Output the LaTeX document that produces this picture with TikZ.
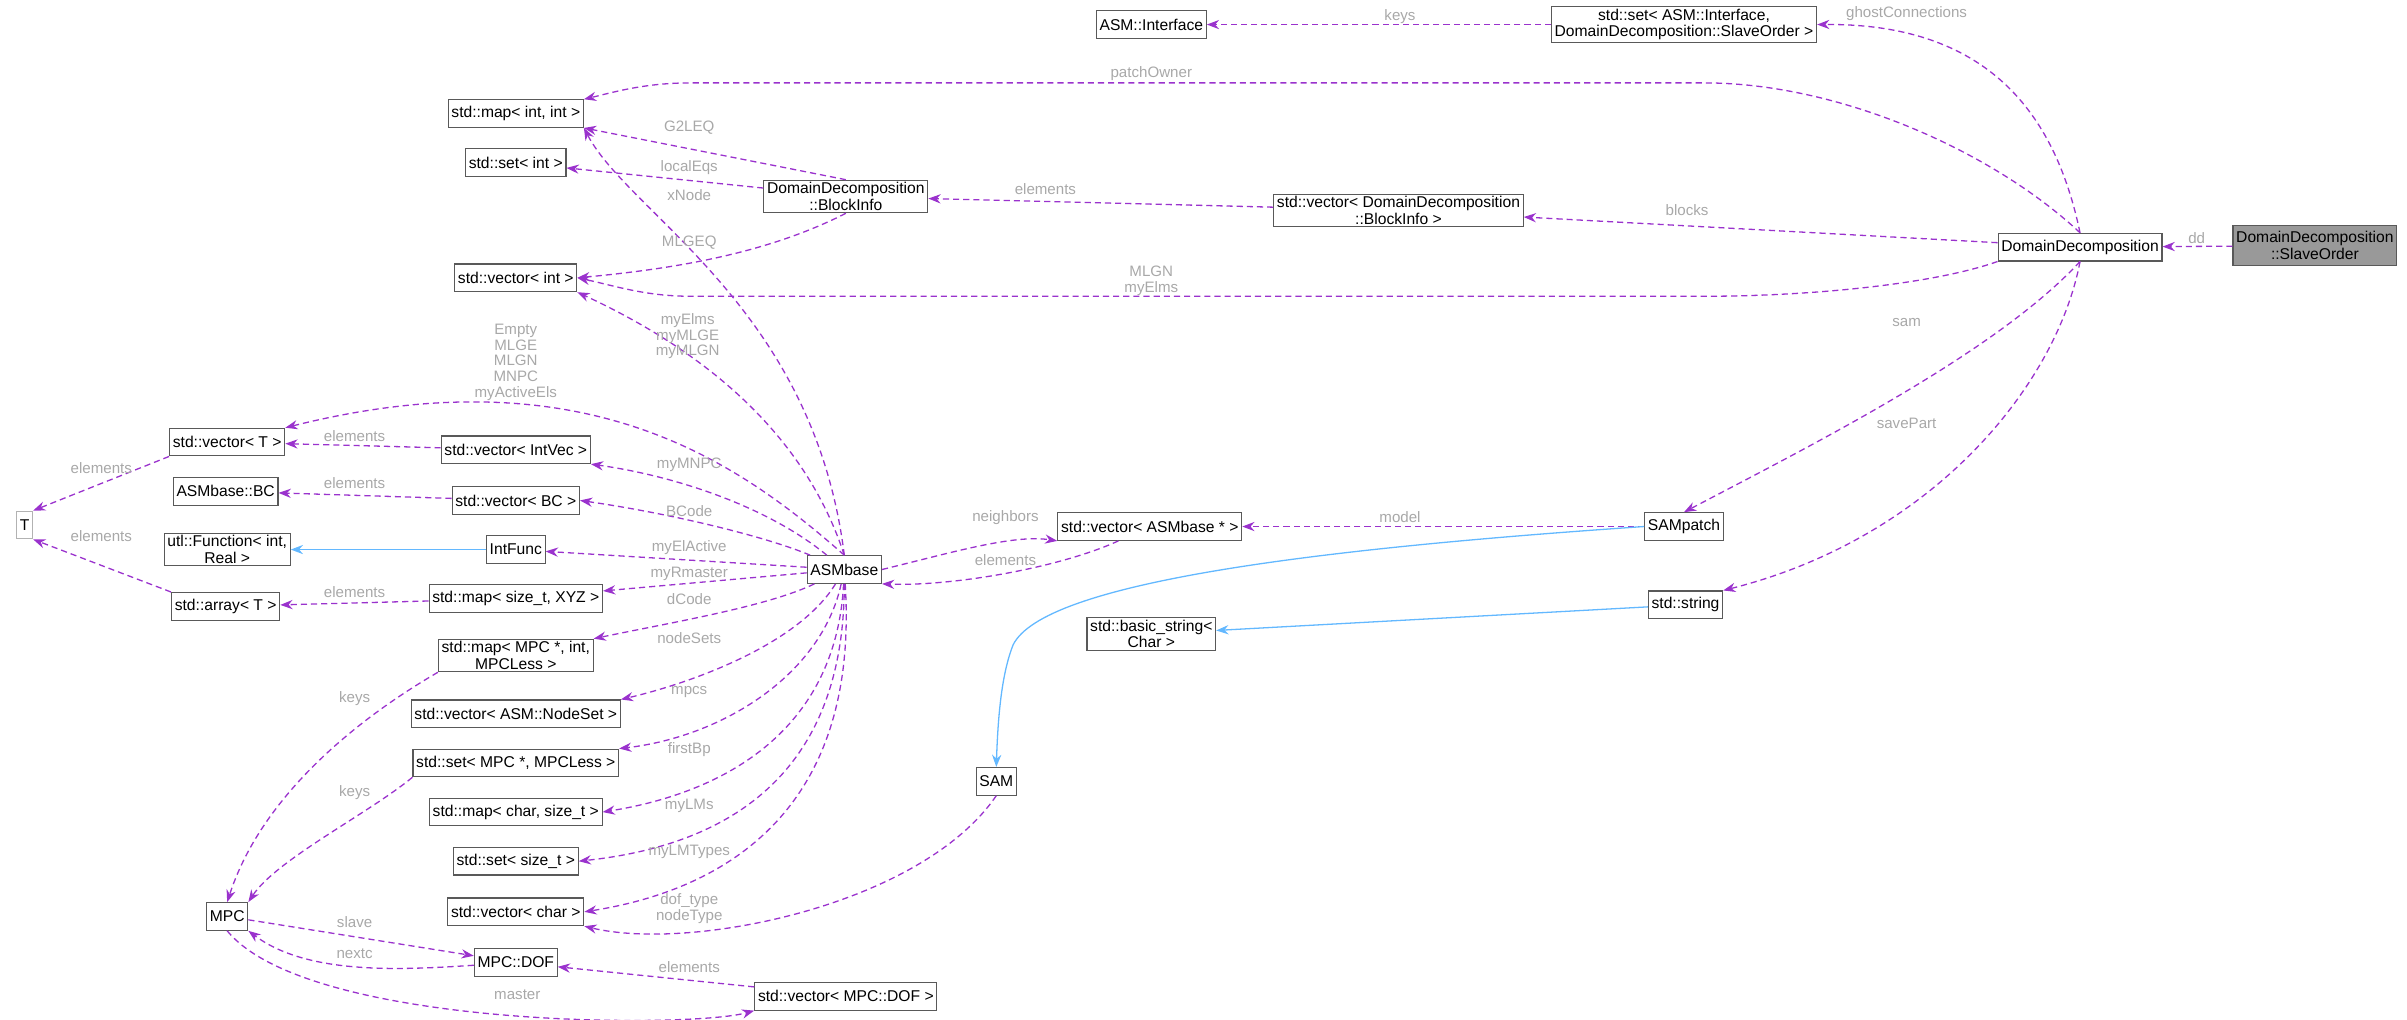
\documentclass[tikz,border=0pt]{standalone}
\usepackage{fontspec}
\setmainfont{Liberation Sans}
\usetikzlibrary{arrows.meta}
\definecolor{ep}{HTML}{9A32CD}
\definecolor{eb}{HTML}{63B8FF}
\definecolor{lb}{HTML}{A8A8A8}
\begin{document}
\begin{tikzpicture}[x=0.5mm,y=-0.5mm,
 every node/.style={font=\fontsize{14.5}{15.5}\selectfont},
 box/.style={draw=black!65,line width=1pt,fill=white,inner xsep=3pt,inner ysep=2pt,minimum height=9mm,align=center},
 rel/.style={draw=ep,line width=1.2pt,dash pattern=on 2mm off 1.3mm,-{Stealth[length=4mm,width=3mm]}},
 inh/.style={draw=eb,line width=1.2pt,-{Stealth[length=4mm,width=3mm]}},
 lab/.style={text=lb,align=center,inner sep=0pt,font=\fontsize{14}{14.5}\selectfont}]
\useasboundingbox (0,0) rectangle (1568,664);
% nodes
\node[box,fill=black!40,minimum height=13mm] (so) at (1508,160) {DomainDecomposition\\::SlaveOrder};
\node[box] (dd) at (1355,161) {DomainDecomposition};
\node[box] (setI) at (1097,16) {std::set< ASM::Interface,\\DomainDecomposition::SlaveOrder >};
\node[box] (asmI) at (750,16) {ASM::Interface};
\node[box] (vbi) at (911,137) {std::vector< DomainDecomposition\\::BlockInfo >};
\node[box] (bi) at (551,128) {DomainDecomposition\\::BlockInfo};
\node[box] (mapii) at (336,74) {std::map< int, int >};
\node[box] (seti) at (336,106) {std::set< int >};
\node[box] (vint) at (336,181) {std::vector< int >};
\node[box] (vT) at (148,288) {std::vector< T >};
\node[box,draw=black!30] (T) at (16,342) {T};
\node[box] (bc) at (147,320) {ASMbase::BC};
\node[box] (utl) at (148,358) {utl::Function< int,\\Real >};
\node[box] (arr) at (147,395) {std::array< T >};
\node[box] (vIV) at (336,293) {std::vector< IntVec >};
\node[box] (vBC) at (336,326) {std::vector< BC >};
\node[box] (ifn) at (336,358) {IntFunc};
\node[box] (mXYZ) at (336,390) {std::map< size\_t, XYZ >};
\node[box] (mMPC) at (336,427) {std::map< MPC *, int,\\MPCLess >};
\node[box] (vNS) at (336,465) {std::vector< ASM::NodeSet >};
\node[box] (sMPC) at (336,497) {std::set< MPC *, MPCLess >};
\node[box] (mch) at (336,529) {std::map< char, size\_t >};
\node[box] (ssz) at (336,561) {std::set< size\_t >};
\node[box] (vch) at (336,594) {std::vector< char >};
\node[box] (mpc) at (148,597) {MPC};
\node[box] (dof) at (336,627) {MPC::DOF};
\node[box] (vdof) at (551,649) {std::vector< MPC::DOF >};
\node[box] (asm) at (550,371) {ASMbase};
\node[box] (vab) at (749,343) {std::vector< ASMbase * >};
\node[box] (samp) at (1097,343) {SAMpatch};
\node[box] (str) at (1098,394) {std::string};
\node[box] (bstr) at (750,413) {std::basic\_string<\\Char >};
\node[box] (sam) at (649,509) {SAM};
% edges
\draw[rel] (so) -- (dd);
\draw[rel] (dd.north) .. controls (1340,80) and (1300,15) .. (setI.east);
\draw[rel] (setI) -- (asmI);
\draw[rel] (dd.north) .. controls (1300,100) and (1200,54) .. (1110,54) -- (450,54) .. controls (420,54) and (400,60) .. (mapii.north east);
\draw[rel] (dd) -- (vbi);
\draw[rel] (vbi) -- (bi);
\draw[rel] (bi.north) -- (mapii.south east);
\draw[rel] (bi) -- (seti);
\draw[rel] (bi.south) .. controls (500,165) and (440,175) .. (vint.east);
\draw[rel] (dd.south west) .. controls (1260,185) and (1180,193) .. (1110,193) -- (450,193) .. controls (420,193) and (400,186) .. (vint.east);
\draw[rel] (dd.south) .. controls (1300,230) and (1180,290) .. (samp.north);
\draw[rel] (dd.south) .. controls (1340,250) and (1260,350) .. (str.north east);
% ASMbase
\draw[rel] (asm.north) .. controls (530,200) and (410,140) .. (mapii.south east);
\draw[rel] (asm.north) .. controls (520,270) and (440,220) .. (vint.south east);
\draw[rel] (asm.north) .. controls (480,300) and (380,230) .. (vT.north east);
\draw[rel] (asm) .. controls (500,330) and (440,310) .. (vIV.south east);
\draw[rel] (asm) .. controls (500,350) and (440,335) .. (vBC.east);
\draw[rel] (asm) -- (ifn);
\draw[rel] (asm) -- (mXYZ);
\draw[rel] (asm) .. controls (500,395) and (440,405) .. (mMPC.north east);
\draw[rel] (asm) .. controls (520,420) and (450,445) .. (vNS.north east);
\draw[rel] (asm) .. controls (535,440) and (470,480) .. (sMPC.north east);
\draw[rel] (asm) .. controls (545,470) and (480,515) .. (mch.east);
\draw[rel] (asm) .. controls (550,500) and (480,550) .. (ssz.east);
\draw[rel] (asm) .. controls (560,530) and (470,580) .. (vch.east);
\draw[rel] (asm.east) .. controls (620,360) and (660,348) .. (vab.south west);
\draw[rel] (vab) .. controls (690,370) and (620,382) .. (asm.south east);
\draw[rel] (samp) -- (vab);
\draw[inh] (samp.west) .. controls (850,358) and (680,380) .. (660,420) .. controls (652,440) and (650,470) .. (sam.north);
\draw[inh] (str) -- (bstr);
\draw[inh] (ifn) -- (utl);
\draw[rel] (sam.south) .. controls (600,590) and (450,620) .. (vch.south east);
\draw[rel] (vIV) -- (vT);
\draw[rel] (vBC) -- (bc);
\draw[rel] (vT.south west) -- (T.north east);
\draw[rel] (arr.north west) -- (T.south east);
\draw[rel] (mXYZ) -- (arr);
\draw[rel] (mMPC.south west) .. controls (230,470) and (170,520) .. (mpc.north);
\draw[rel] (sMPC.south west) .. controls (240,530) and (180,560) .. (mpc.north east);
\draw[rel] (mpc) -- (dof);
\draw[rel] (dof) .. controls (260,632) and (200,635) .. (mpc.south east);
\draw[rel] (vdof) -- (dof);
\draw[rel] (mpc.south) .. controls (200,670) and (450,670) .. (vdof.south west);
% labels
\node[lab] (l1) at (1431,155) {dd};
\node[lab] (l2) at (1242,9) {ghostConnections};
\node[lab] (l3) at (912,11) {keys};
\node[lab] (l4) at (750,48) {patchOwner};
\node[lab] (l5) at (1099,137) {blocks};
\node[lab] (l6) at (681,123) {elements};
\node[lab] (l7) at (449,83) {G2LEQ};
\node[lab] (l8) at (449,109) {localEqs};
\node[lab] (l9) at (449,127) {xNode};
\node[lab] (l10) at (449,158) {MLGEQ};
\node[lab] (l11) at (750,183) {MLGN\\myElms};
\node[lab] (l12) at (1242,210) {sam};
\node[lab] (l13) at (1242,276) {savePart};
\node[lab] (l14) at (448,219) {myElms\\myMLGE\\myMLGN};
\node[lab] (l15) at (336,236) {Empty\\MLGE\\MLGN\\MNPC\\myActiveEls};
\node[lab] (l16) at (231,284) {elements};
\node[lab] (l17) at (66,305) {elements};
\node[lab] (l18) at (449,303) {myMNPC};
\node[lab] (l19) at (231,315) {elements};
\node[lab] (l20) at (449,333) {BCode};
\node[lab] (l21) at (66,349) {elements};
\node[lab] (l22) at (449,357) {myElActive};
\node[lab] (l23) at (449,374) {myRmaster};
\node[lab] (l24) at (231,386) {elements};
\node[lab] (l25) at (449,390) {dCode};
\node[lab] (l26) at (449,416) {nodeSets};
\node[lab] (l27) at (231,455) {keys};
\node[lab] (l28) at (449,451) {mpcs};
\node[lab] (l29) at (449,488) {firstBp};
\node[lab] (l30) at (231,516) {keys};
\node[lab] (l31) at (449,525) {myLMs};
\node[lab] (l32) at (449,555) {myLMTypes};
\node[lab] (l33) at (449,592) {dof\_type\\nodeType};
\node[lab] (l34) at (231,601) {slave};
\node[lab] (l35) at (231,621) {nextc};
\node[lab] (l36) at (449,630) {elements};
\node[lab] (l37) at (337,648) {master};
\node[lab] (l38) at (655,337) {neighbors};
\node[lab] (l39) at (655,365) {elements};
\node[lab] (l40) at (912,337) {model};
\end{tikzpicture}
\end{document}
